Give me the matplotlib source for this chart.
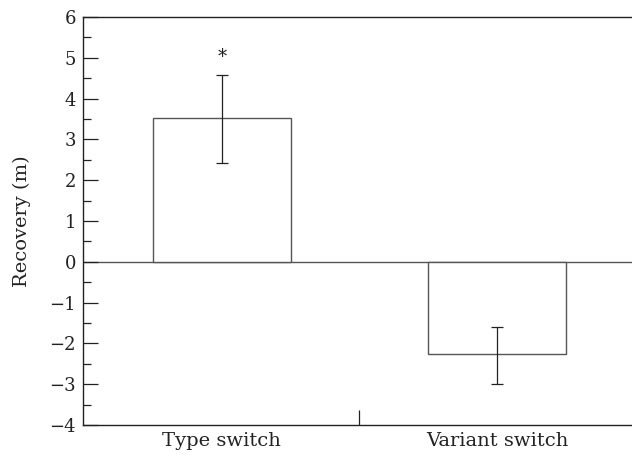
import matplotlib
matplotlib.use("Agg")
import matplotlib.pyplot as plt
import numpy as np

categories = ["Type switch", "Variant switch"]
means = [3.52, -2.27]
err_low = [2.43, -3.0]
err_high = [4.58, -1.6]
sig = ["*", ""]

plt.rcParams['font.family'] = ['DejaVu Serif']

fig = plt.figure(figsize=(6.32, 4.57), dpi=100)
ax = fig.add_axes([83/632, 1-425/457, 1-83/632, (425-17)/457])

x = np.arange(len(categories))
ax.bar(x, means, width=0.5, facecolor='white', edgecolor='#555555', linewidth=1.0, zorder=2)
yerr = np.array([[m - lo for m, lo in zip(means, err_low)],
                 [hi - m for m, hi in zip(means, err_high)]])
ax.errorbar(x, means, yerr=yerr, fmt='none', ecolor='#222222', elinewidth=0.9, capsize=4, capthick=0.9, zorder=3)
for xi, hi, s in zip(x, err_high, sig):
    if s:
        ax.text(xi, hi + 0.22, s, ha='center', va='bottom', fontsize=13, color='#222222')

ax.axhline(0, color='#555555', linewidth=1.0, zorder=1)

ax.set_xlim(-0.5045, 1.49)
ax.set_ylim(-4, 6)
ax.set_yticks(np.arange(-4, 7, 1))
ax.set_yticklabels([str(v).replace('-', '\u2212') for v in range(-4, 7)])
ax.set_yticks(np.arange(-3.5, 6, 1), minor=True)
ax.set_xticks(x)
ax.set_xticklabels(categories)
ax.set_xticks([0.5], minor=True)

ax.tick_params(axis='y', which='major', direction='in', length=11, width=0.9, labelsize=13, pad=5, colors='#222222')
ax.tick_params(axis='y', which='minor', direction='in', length=6, width=0.9, colors='#222222')
ax.tick_params(axis='x', which='major', length=0, labelsize=14, pad=5, colors='#222222')
ax.tick_params(axis='x', which='minor', direction='in', length=11, width=0.9, colors='#222222')

for side in ['left', 'bottom', 'top']:
    ax.spines[side].set_linewidth(1.0)
    ax.spines[side].set_color('#222222')
ax.spines['right'].set_visible(False)

ax.set_ylabel("Recovery (m)", fontsize=14, color='#222222', labelpad=13)

fig.savefig("out.png", dpi=100)
